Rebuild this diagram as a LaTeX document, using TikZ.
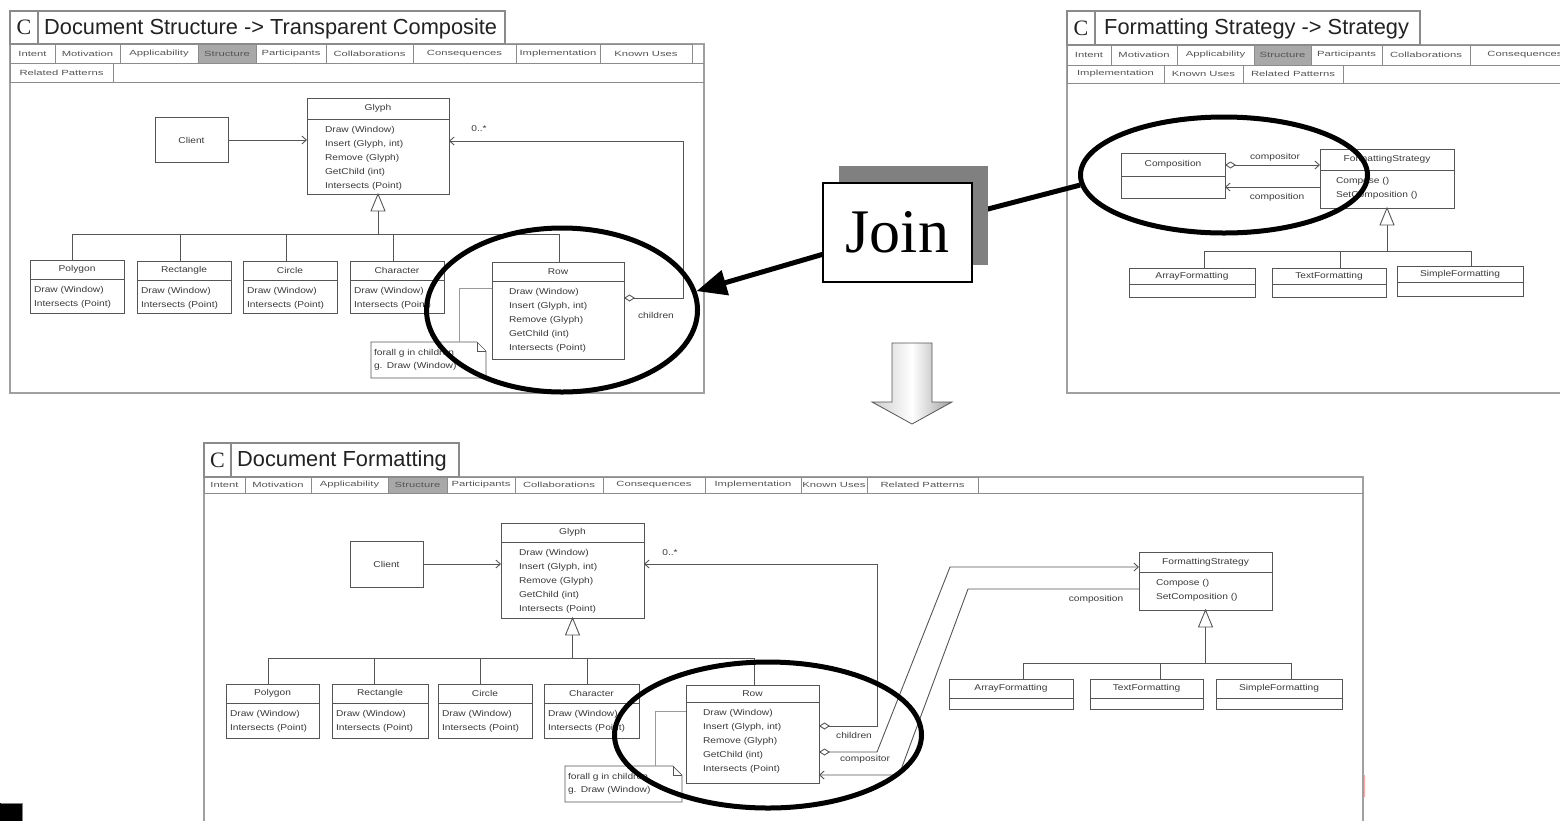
\documentclass[tikz,border=0pt]{standalone}
\usepackage{fontspec}
\usetikzlibrary{arrows.meta,shapes.geometric,shadows,calc}
\newfontfamily\umlfont[FakeStretch=1.2]{Liberation Sans}
\newfontfamily\tabfont[FakeStretch=1.5]{Liberation Sans}
\newfontfamily\headfont{Liberation Sans}
\newfontfamily\letterfont{Liberation Serif}
\newfontfamily\joinfont{Liberation Serif}
\pgfdeclarelayer{fg}
\pgfsetlayers{main,fg}
\definecolor{ulc}{HTML}{555555}
\definecolor{utx}{HTML}{3A3A3A}
\definecolor{panelc}{HTML}{A0A0A0}
\definecolor{tabline}{HTML}{8C8C8C}
\definecolor{tabgray}{HTML}{A8A8A8}
\definecolor{tabtext}{HTML}{555555}
\definecolor{titleline}{HTML}{8A8A8A}
\definecolor{titletx}{HTML}{222222}
\definecolor{notelinkc}{HTML}{9A9A9A}
\definecolor{shadowgray}{HTML}{808080}
\definecolor{arrowline}{HTML}{555555}

% class box with a list of operations
\newcommand\uclass[9]{%
  \node[cbox, minimum width={(#4-#2)*1pt}, minimum height={(#5-#3)*1pt}] (#1) at ({(#2+#4)/2},{(#3+#5)/2}) {};
  \draw[ul] (#1.west |- 0,#6) -- (#1.east |- 0,#6);
  \node[ut] (#1-title) at ({(#2+#4)/2},{(#3+#6)/2}) {#7};
  \foreach \m [count=\i] in {#9}
    \node[ut, anchor=base west] (#1-m\i) at ({#2+#8},{#6+13+(\i-1)*14.2}) {\m};
}
% class box with an empty operation compartment
\newcommand\eclass[7]{%
  \node[cbox, minimum width={(#4-#2)*1pt}, minimum height={(#5-#3)*1pt}] (#1) at ({(#2+#4)/2},{(#3+#5)/2}) {};
  \draw[ul] (#1.west |- 0,#6) -- (#1.east |- 0,#6);
  \node[ut] (#1-title) at ({(#2+#4)/2},{(#3+#6)/2}) {#7};
}
% one row of section tabs
\newcommand\tabrow[4]{%
  \foreach \a/\b/\t/\f [count=\i] in {#4}
    \node[tabcell, fill=\f, minimum width={(\b-\a)*1pt}, minimum height={#3*1pt}] (#1\i) at ({(\a+\b)/2},{#2+#3/2}) {\t};
}
% note with a folded corner
\newcommand\umlnote[5]{%
  \node[notebox, minimum width={#4*1pt}, minimum height={#5*1pt}, text width={(#4-6)*1pt}] (#1) at (#2,#3) {forall g in children\\g. Draw (Window)};
  \draw[ul, line width=0.7pt] (#1.north west) -- ([xshift=-9pt]#1.north east) -- ([yshift=-9pt]#1.north east) -- (#1.south east) -- (#1.south west) -- cycle;
  \draw[ul, line width=0.7pt] ([xshift=-9pt]#1.north east) |- ([yshift=-9pt]#1.north east);
}

\begin{document}
\begin{tikzpicture}[x=1pt,y=-1pt,
  ul/.style={draw=ulc, line width=0.9pt},
  cbox/.style={draw=ulc, line width=0.9pt, fill=white, inner sep=0pt, outer sep=0pt, font=\umlfont\fontsize{8.5}{10}\selectfont, text=utx},
  ut/.style={inner sep=0pt, outer sep=0pt, font=\umlfont\fontsize{8.5}{10}\selectfont, text=utx},
  assoc/.style={ul, -{Straight Barb[length=4.5pt,width=8pt]}},
  aggr/.style={ul, {Diamond[open,length=11pt,width=7pt]}-{Straight Barb[length=4.5pt,width=8pt]}},
  notebox/.style={fill=white, inner xsep=3pt, inner ysep=2pt, outer sep=0pt, anchor=north west, align=left, font=\umlfont\fontsize{8.5}{13}\selectfont, text=utx},
  notelink/.style={draw=notelinkc, line width=0.8pt},
  tabcell/.style={draw=tabline, line width=0.7pt, inner sep=0pt, outer sep=0pt, font=\tabfont\fontsize{7.5}{8}\selectfont, text=tabtext},
  tabrule/.style={draw=tabline, line width=0.9pt},
  panelbox/.style={draw=panelc, line width=1.8pt},
  titlecell/.style={draw=titleline, line width=1.1pt, fill=white, inner sep=0pt, outer sep=0pt},
  lettercell/.style={titlecell, font=\letterfont\fontsize{22}{24}\selectfont, text=titletx},
  titletext/.style={inner sep=0pt, font=\headfont\fontsize{21.8}{24}\selectfont, text=titletx, anchor=west},
  ring/.style={ellipse, draw=black, line width=5pt, inner sep=0pt},
  bigline/.style={draw=black, line width=5pt},
  joinbox/.style={draw=black, line width=1.2pt, fill=white, inner sep=0pt, minimum width=149pt, minimum height=99pt,
    font=\joinfont\fontsize{62}{62}\selectfont,
    general shadow={fill=shadowgray, draw=none, shadow xshift=16pt, shadow yshift=17pt}}
]
\useasboundingbox (0,0) rectangle (1560,820);
\clip (0,0) rectangle (1560,820);

% ================= Document Structure -> Transparent Composite =================
\draw[panelbox] (10,44) rectangle (704,393);
\node[lettercell, minimum width=28pt, minimum height=33pt] (tlC) at (24,27.5) {C};
\node[titlecell, minimum width=467pt, minimum height=33pt] (tlhead) at (271.5,27.5) {};
\node[titletext] (tlname) at (44,28.5) {Document Structure -> Transparent Composite};
\draw[tabrule] (10,63) -- (704,63) (10,82) -- (704,82);
\tabrow{tlt}{44}{19}{10/55/Intent/white,55/120/Motivation/white,120/198/Applicability/white,198/256/Structure/tabgray,256/326/Participants/white,326/413/Collaborations/white,413/516/Consequences/white,516/600/Implementation/white,600/692/Known Uses/white}
\tabrow{tlu}{63}{19}{10/113/Related Patterns/white}

\uclass{tlglyph}{307}{98}{449}{194}{119}{Glyph}{18}{{Draw (Window)},{Insert (Glyph, int)},{Remove (Glyph)},{GetChild (int)},{Intersects (Point)}}
\node[cbox, minimum width=73pt, minimum height=45pt] (tlclient) at (191.5,140) {Client};
\uclass{tlpoly}{30}{260}{124}{313}{279}{Polygon}{4}{{Draw (Window)},{Intersects (Point)}}
\uclass{tlrect}{137}{261}{231}{313}{280}{Rectangle}{4}{{Draw (Window)},{Intersects (Point)}}
\uclass{tlcirc}{243}{261}{337}{313}{280}{Circle}{4}{{Draw (Window)},{Intersects (Point)}}
\uclass{tlchar}{350}{261}{444}{313}{280}{Character}{4}{{Draw (Window)},{Intersects (Point)}}
\uclass{tlrow}{492}{262}{624}{359}{281}{Row}{17}{{Draw (Window)},{Insert (Glyph, int)},{Remove (Glyph)},{GetChild (int)},{Intersects (Point)}}

% generalisation tree
\draw[ul, fill=white] (tlglyph.south) -- ++(-7,17) -- ++(14,0) -- cycle;
\coordinate (tlinh) at ($(tlglyph.south)+(0,17)$);
\coordinate (tlbar) at ($(tlglyph.south)+(0,40)$);
\draw[ul] (tlinh) -- (tlbar);
\foreach \c/\x in {tlpoly/72,tlrect/180,tlcirc/286,tlchar/393,tlrow/559}
  \draw[ul] (\c.north -| \x,0) |- (tlbar);

% associations
\draw[assoc] (tlclient.east) -- (tlglyph.west |- tlclient.east);
\draw[aggr] (tlrow.east |- 0,298) -- (683,298) -- (683,141) -- (tlglyph.east |- 0,141);
\node[ut] (tlmult) at (479,129) {0..*};
\node[ut] (tlchildren) at (656,315) {children};

\umlnote{tlnote}{371}{342}{115}{36}
\draw[notelink] (tlnote.north -| 459,0) -- (459,288) -- (tlrow.west |- 0,288);

% ================= Formatting Strategy -> Strategy =================
\draw[panelbox] (1067,45) rectangle (1600,393);
\node[lettercell, minimum width=28pt, minimum height=34pt] (trC) at (1081,28) {C};
\node[titlecell, minimum width=325pt, minimum height=34pt] (trhead) at (1257.5,28) {};
\node[titletext] (trname) at (1104,29) {Formatting Strategy -> Strategy};
\draw[tabrule] (1067,65) -- (1600,65) (1067,83) -- (1600,83);
\tabrow{trt}{45}{20}{1067/1111/Intent/white,1111/1177/Motivation/white,1177/1254/Applicability/white,1254/1311/Structure/tabgray,1311/1382/Participants/white,1382/1470/Collaborations/white,1470/1580/Consequences/white}
\tabrow{tru}{65}{18}{1067/1164/Implementation/white,1164/1243/Known Uses/white,1243/1343/Related Patterns/white}

\eclass{trcomp}{1121}{153}{1225}{198}{176}{Composition}
\uclass{trfs}{1320}{149}{1454}{208}{170}{FormattingStrategy}{16}{{Compose ()},{SetComposition ()}}
\eclass{trarray}{1129}{268}{1255}{297}{284}{ArrayFormatting}
\eclass{trtext}{1272}{268}{1386}{297}{284}{TextFormatting}
\eclass{trsimple}{1397}{266}{1523}{296}{282}{SimpleFormatting}

\draw[ul, fill=white] (trfs.south) -- ++(-7,17) -- ++(14,0) -- cycle;
\coordinate (trinh) at ($(trfs.south)+(0,17)$);
\coordinate (trbar) at ($(trfs.south)+(0,43)$);
\draw[ul] (trinh) -- (trbar);
\foreach \c/\x in {trarray/1204,trtext/1340,trsimple/1471}
  \draw[ul] (\c.north -| \x,0) |- (trbar);

\draw[aggr] (trcomp.east |- 0,165) -- (trfs.west |- 0,165);
\draw[assoc] (trfs.west |- 0,187) -- (trcomp.east |- 0,187);
\node[ut] (trl1) at (1275,157) {compositor};
\node[ut] (trl2) at (1277,197) {composition};

% ================= Document Formatting =================
\draw[panelbox] (204,477) rectangle (1363,840);
\node[lettercell, minimum width=27pt, minimum height=34pt] (bC) at (217.5,460) {C};
\node[titlecell, minimum width=228pt, minimum height=34pt] (bhead) at (345,460) {};
\node[titletext] (bname) at (237,461) {Document Formatting};
\draw[tabrule] (204,493) -- (1363,493);
\tabrow{bt}{477}{16}{204/245/Intent/white,245/311/Motivation/white,311/388/Applicability/white,388/447/Structure/tabgray,447/515/Participants/white,515/603/Collaborations/white,603/705/Consequences/white,705/801/Implementation/white,801/867/Known Uses/white,867/978/Related Patterns/white}

\uclass{bglyph}{501}{523}{644}{618}{542}{Glyph}{18}{{Draw (Window)},{Insert (Glyph, int)},{Remove (Glyph)},{GetChild (int)},{Intersects (Point)}}
\node[cbox, minimum width=73pt, minimum height=46pt] (bclient) at (386.5,564) {Client};
\uclass{bpoly}{226}{684}{319}{738}{703}{Polygon}{4}{{Draw (Window)},{Intersects (Point)}}
\uclass{brect}{332}{684}{428}{738}{703}{Rectangle}{4}{{Draw (Window)},{Intersects (Point)}}
\uclass{bcirc}{438}{684}{532}{738}{703}{Circle}{4}{{Draw (Window)},{Intersects (Point)}}
\uclass{bchar}{544}{684}{639}{738}{703}{Character}{4}{{Draw (Window)},{Intersects (Point)}}
\uclass{brow}{686}{685}{819}{783}{702}{Row}{17}{{Draw (Window)},{Insert (Glyph, int)},{Remove (Glyph)},{GetChild (int)},{Intersects (Point)}}
\uclass{bfs}{1139}{552}{1272}{610}{572}{FormattingStrategy}{17}{{Compose ()},{SetComposition ()}}
\eclass{barray}{949}{679}{1073}{709}{698}{ArrayFormatting}
\eclass{btext}{1090}{679}{1203}{709}{698}{TextFormatting}
\eclass{bsimple}{1216}{679}{1342}{709}{698}{SimpleFormatting}

\draw[ul, fill=white] (bglyph.south) -- ++(-7,17) -- ++(14,0) -- cycle;
\coordinate (binh) at ($(bglyph.south)+(0,17)$);
\coordinate (bbar) at ($(bglyph.south)+(0,40)$);
\draw[ul] (binh) -- (bbar);
\foreach \c/\x in {bpoly/268,brect/374,bcirc/480,bchar/587,brow/754}
  \draw[ul] (\c.north -| \x,0) |- (bbar);

\draw[ul, fill=white] (bfs.south) -- ++(-7,17) -- ++(14,0) -- cycle;
\coordinate (bfsinh) at ($(bfs.south)+(0,17)$);
\coordinate (bfsbar) at ($(bfs.south)+(0,53)$);
\draw[ul] (bfsinh) -- (bfsbar);
\foreach \c/\x in {barray/1023,btext/1160,bsimple/1291}
  \draw[ul] (\c.north -| \x,0) |- (bfsbar);

\draw[assoc] (bclient.east) -- (bglyph.west |- bclient.east);
\draw[aggr] (brow.east |- 0,726) -- (877,726) -- (877,564) -- (bglyph.east |- 0,564);
\draw[aggr] (brow.east |- 0,752) -- (877,752) -- (950,567) -- (bfs.west |- 0,567);
\draw[assoc] (bfs.west |- 0,589) -- (968,589) -- (899,775) -- (brow.east |- 0,775);
\node[ut] (bmult) at (670,553) {0..*};
\node[ut] (bchildren) at (854,735) {children};
\node[ut] (bcompositor) at (865,759) {compositor};
\node[ut] (bcomposition) at (1096,599) {composition};

\umlnote{bnote}{565}{766}{117}{36}
\draw[notelink] (bnote.north -| 655,0) -- (655,711) -- (brow.west |- 0,711);

\draw[red!35, line width=1.5pt] (1364.5,775) -- (1364.5,797);

% ================= highlight rings and the join =================
\node[ring, minimum width=271pt, minimum height=164pt] (ringTL) at (562,310) {};
\node[ring, minimum width=287pt, minimum height=116pt] (ringTR) at (1224,175) {};
\node[ring, minimum width=307pt, minimum height=146pt] (ringB) at (768,735) {};

\begin{pgfonlayer}{fg}
\node[joinbox] (join) at (897.5,232.5) {Join};
\end{pgfonlayer}
\draw[bigline] (ringTR.184) -- (join);
\draw[bigline, -{Triangle[length=30pt,width=25pt]}] (join) -- (ringTL.8);

% result arrow
\shade[draw=arrowline, line width=0.8pt, left color=gray!40, right color=gray!75, middle color=white]
  (892,343) -- (932,343) -- (932,402) -- (952,402) -- (912,424) -- (872,402) -- (892,402) -- cycle;

% corner marker
\fill[black] (0,803) rectangle (23,822);
\draw[gray, line width=1pt] (0.5,803.5) -- (22.5,803.5) -- (22.5,822);
\end{tikzpicture}
\end{document}
